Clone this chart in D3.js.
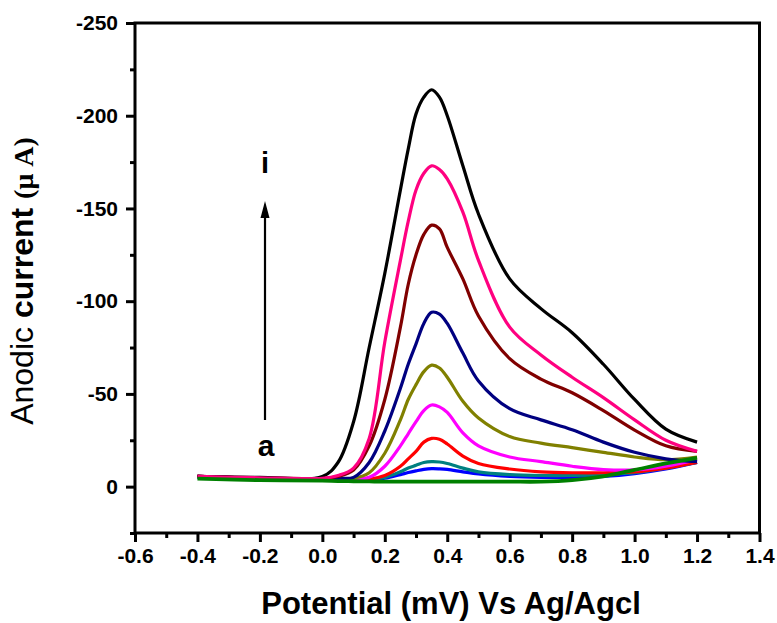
<!DOCTYPE html>
<html>
<head>
<meta charset="utf-8">
<script src="https://cdn.jsdelivr.net/npm/d3@7"></script>
<style>
  html, body { margin: 0; padding: 0; background: #fff; }
  svg { display: block; }
  text { font-family: "Liberation Sans", Arial, sans-serif; }
</style>
</head>
<body>
<svg id="chart" width="777" height="623"></svg>
<script>
// ---- data ----
const potential = [-0.4, -0.2, 0, 0.05, 0.1, 0.15, 0.2, 0.25, 0.275, 0.3, 0.325, 0.35, 0.375, 0.4, 0.45, 0.5, 0.6, 0.7, 0.8, 0.9, 1.0, 1.1, 1.2];
const curveA = [-5, -4.3, -4, -4, -3.8, -3.8, -4.5, -6.5, -7.6, -8.5, -9.3, -9.7, -9.6, -9.3, -8, -6.8, -5.5, -5, -5, -5.5, -7, -9.5, -13];
const curveB = [-5, -4.3, -4, -4, -3.8, -3.8, -5, -8, -10, -11.5, -13, -13.5, -13.3, -12.5, -10, -8, -6.5, -6, -6, -6.5, -7.5, -10, -13];
const curveC = [-5.5, -4.5, -4, -4, -4, -4, -6, -11, -15, -19, -24, -26, -25.5, -23, -16.5, -12.5, -9.5, -8, -7.5, -7.5, -8, -10, -13];
const curveD = [-5.5, -4.5, -4, -4, -4, -5, -11, -22, -28.5, -35, -41, -44, -43, -40, -29, -22, -16, -13.5, -11, -9.2, -9, -11, -14.5];
const curveE = [-5.5, -4.5, -4, -4, -4.5, -7.5, -18, -36, -47, -55, -62, -65.5, -64, -59, -46, -37, -27, -23.5, -21, -18.5, -16, -14.5, -16];
const curveF = [-5.5, -4.5, -4, -4.5, -5, -13, -30, -53, -66, -77, -88, -94, -93, -88, -72, -57, -42, -36, -30.7, -24, -18.5, -15, -13.5];
const curveG = [-5.5, -4.8, -4.5, -5.5, -9, -22, -47, -86, -109, -125, -136, -141, -139, -129, -112, -92, -69, -58, -50.6, -41, -30.5, -22, -19];
const curveH = [-5.5, -4.8, -4.5, -6, -10, -26, -78, -122, -143, -160, -169, -173, -171, -166, -148, -122, -86, -71, -59, -48, -36, -25, -19];
const curveI = [-5.5, -5, -5.5, -13, -35, -75, -115, -160, -182, -201, -210, -214, -210, -200, -173, -147, -112, -96, -83, -66, -47, -31, -24];
const blank  = [-4.3, -3.5, -3.2, -3, -2.9, -2.8, -2.7, -2.7, -2.7, -2.7, -2.7, -2.7, -2.7, -2.7, -2.7, -2.7, -2.7, -2.7, -3.5, -5.5, -9, -12.5, -15.5];

const seriesNames = ["a", "b", "c", "d", "e", "f", "g", "h", "i", "blank"];
const seriesValues = [curveA, curveB, curveC, curveD, curveE, curveF, curveG, curveH, curveI, blank];
const seriesColors = ["#0000ff", "#008080", "#ff0000", "#ff00ff", "#808000", "#000080", "#800000", "#ff0080", "#000000", "#008000"];
const drawOrder = [0, 1, 2, 3, 4, 5, 6, 8, 7, 9];

const xTicks = [-0.6, -0.4, -0.2, 0.0, 0.2, 0.4, 0.6, 0.8, 1.0, 1.2, 1.4];
const yTicks = [-250, -200, -150, -100, -50, 0];
const xMinor = [-0.5, -0.3, -0.1, 0.1, 0.3, 0.5, 0.7, 0.9, 1.1, 1.3];
const yMinor = [-225, -175, -125, -75, -25, 25];

// ---- layout ----
const svg = d3.select("#chart");
const mLeft = 135, mRight = 759.5, mTop = 23, mBottom = 533;

const x = d3.scaleLinear().domain([-0.6, 1.4]).range([mLeft, mRight]);
const y = d3.scaleLinear().domain([25, -250]).range([mBottom, mTop]);

// curves
const line = d3.line()
  .x((d, i) => x(potential[i]))
  .y(d => y(d))
  .curve(d3.curveCatmullRom.alpha(0.5));

const g = svg.append("g");
drawOrder.forEach(k => {
  g.append("path")
    .datum(seriesValues[k])
    .attr("d", line)
    .attr("fill", "none")
    .attr("stroke", seriesColors[k])
    .attr("stroke-width", k === 9 ? 3.8 : 3.2)
    .attr("stroke-linejoin", "round");
});

// frame
svg.append("rect")
  .attr("x", mLeft).attr("y", mTop)
  .attr("width", mRight - mLeft).attr("height", mBottom - mTop)
  .attr("fill", "none").attr("stroke", "#000").attr("stroke-width", 3);

// x axis
const xAxis = d3.axisBottom(x).tickValues(xTicks).tickFormat(d => d.toFixed(1)).tickSize(9).tickPadding(6);
const xg = svg.append("g").attr("transform", `translate(0,${mBottom})`).call(xAxis);
xg.select(".domain").remove();
xg.selectAll(".tick line").attr("stroke", "#000").attr("stroke-width", 3);
xg.selectAll(".tick text").attr("font-size", 21).attr("font-weight", "bold").attr("fill", "#000")
  .attr("font-family", "'Liberation Sans', Arial, sans-serif");
const xmg = svg.append("g").attr("transform", `translate(0,${mBottom})`)
  .call(d3.axisBottom(x).tickValues(xMinor).tickSize(5).tickFormat(""));
xmg.select(".domain").remove();
xmg.selectAll(".tick line").attr("stroke", "#000").attr("stroke-width", 3);

// y axis
const yAxis = d3.axisLeft(y).tickValues(yTicks).tickFormat(d => String(d)).tickSize(9).tickPadding(8);
const yg = svg.append("g").attr("transform", `translate(${mLeft},0)`).call(yAxis);
yg.select(".domain").remove();
yg.selectAll(".tick line").attr("stroke", "#000").attr("stroke-width", 3);
yg.selectAll(".tick text").attr("font-size", 21).attr("font-weight", "bold").attr("fill", "#000")
  .attr("font-family", "'Liberation Sans', Arial, sans-serif");
const ymg = svg.append("g").attr("transform", `translate(${mLeft},0)`)
  .call(d3.axisLeft(y).tickValues(yMinor).tickSize(5).tickFormat(""));
ymg.select(".domain").remove();
ymg.selectAll(".tick line").attr("stroke", "#000").attr("stroke-width", 3);

// axis titles
svg.append("text")
  .attr("x", 451).attr("y", 614)
  .attr("text-anchor", "middle")
  .attr("font-size", 31).attr("font-weight", "bold")
  .text("Potential (mV) Vs Ag/Agcl");

const yt = svg.append("text")
  .attr("transform", "translate(33,281) rotate(-90)")
  .attr("text-anchor", "middle")
  .attr("font-size", 32);
yt.append("tspan").text("Anodic ");
yt.append("tspan").attr("font-weight", "bold").text("current ");
yt.append("tspan").attr("font-family", "'Liberation Serif', 'Times New Roman', serif")
  .attr("font-size", 28).attr("font-weight", "bold").text("(\u03bc\u00a0A)");

// arrow a -> i
const ax = 265;
svg.append("line")
  .attr("x1", ax).attr("x2", ax).attr("y1", 420).attr("y2", 214)
  .attr("stroke", "#000").attr("stroke-width", 2.2);
svg.append("path")
  .attr("d", `M${ax},201 L${ax - 4.5},218 L${ax + 4.5},218 Z`)
  .attr("fill", "#000");
svg.append("text").attr("x", ax).attr("y", 173).attr("text-anchor", "middle")
  .attr("font-size", 29).attr("font-weight", "bold").text("i");
svg.append("text").attr("x", ax + 1).attr("y", 456).attr("text-anchor", "middle")
  .attr("font-size", 30).attr("font-weight", "bold").text("a");
</script>
</body>
</html>
